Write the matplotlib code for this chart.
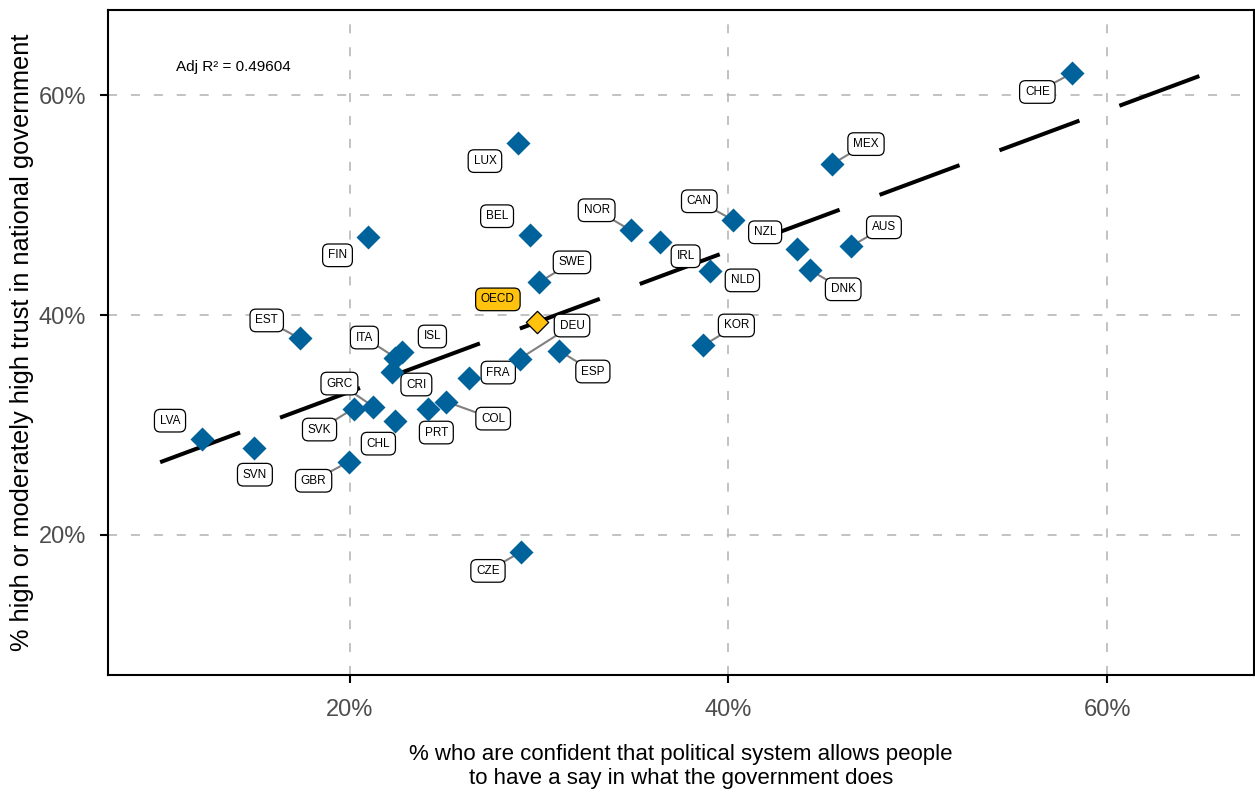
import matplotlib
matplotlib.use('Agg')
import matplotlib.pyplot as plt
from matplotlib import font_manager
import numpy as np

# Country values: % confident they have a say (x) vs % trusting national government (y)
countries = ['CHE', 'MEX', 'LUX', 'BEL', 'FIN', 'NOR', 'IRL', 'CAN', 'NZL', 'DNK',
             'AUS', 'NLD', 'KOR', 'SWE', 'DEU', 'ESP', 'FRA', 'COL', 'PRT', 'CHL',
             'CRI', 'ITA', 'ISL', 'GRC', 'SVK', 'GBR', 'EST', 'LVA', 'SVN', 'CZE']
have_say = [58.16, 45.47, 28.89, 29.53, 21.00, 34.84, 36.37, 40.26, 43.63, 44.32,
            46.47, 39.05, 38.68, 30.00, 29.00, 31.05, 26.32, 25.10, 24.16, 22.42,
            22.26, 22.42, 22.79, 21.26, 20.21, 19.95, 17.37, 12.21, 14.95, 29.05]
trust_gov = [62.02, 53.73, 55.64, 47.26, 47.07, 47.71, 46.62, 48.62, 45.98, 44.07,
             46.25, 43.97, 37.23, 42.97, 36.04, 36.77, 34.31, 32.12, 31.49, 30.39,
             34.86, 36.13, 36.59, 31.67, 31.49, 26.65, 37.87, 28.75, 27.93, 18.45]
oecd_x = 29.89
oecd_y = 39.33
adj_r2 = 0.49604
fit_range = [10, 65]
ticks = [20, 40, 60]

# label placement (offset in pixels from the point) and whether a leader is drawn
label_offsets = {
    'CHE': (-35, -19), 'MEX': (34, 20), 'LUX': (-33, -18), 'BEL': (-33, 19),
    'FIN': (-31, -18), 'NOR': (-34, 20), 'IRL': (26, -14), 'CAN': (-34, 19),
    'NZL': (-32, 17), 'DNK': (33, -19), 'AUS': (33, 19), 'NLD': (32, -9),
    'KOR': (33, 20), 'SWE': (33, 20), 'DEU': (52, 33), 'ESP': (34, -21),
    'FRA': (29, 5), 'COL': (47, -17), 'PRT': (8, -24), 'CHL': (-17, -23),
    'CRI': (24, -13), 'ITA': (-31, 20), 'ISL': (30, 16), 'GRC': (-34, 23),
    'SVK': (-34, -21), 'GBR': (-35, -19), 'EST': (-33, 18), 'LVA': (-32, 18),
    'SVN': (1, -27), 'CZE': (-33, -19),
}
no_leader = {'LUX', 'BEL', 'FIN', 'NZL', 'IRL', 'NLD', 'ISL', 'FRA', 'CRI',
             'LVA', 'CHL', 'PRT', 'SVN'}

names = {f.name for f in font_manager.fontManager.ttflist}
narrow = 'Liberation Sans Narrow' if 'Liberation Sans Narrow' in names else 'Liberation Sans'
plt.rcParams['font.family'] = [narrow, 'DejaVu Sans']
plt.rcParams['lines.scale_dashes'] = False

BLUE = '#00629b'
YELLOW = '#ffc20e'

fig = plt.figure(figsize=(12.55, 7.93), dpi=100)
ax = fig.add_axes([0.0861, 0.1488, 0.9131, 0.8386])

# OLS fit drawn across the full range
slope, intercept = np.polyfit(have_say, trust_gov, 1)
fx = np.array(fit_range, dtype=float)
ax.plot(fx, intercept + slope * fx, color='black', lw=2.9,
        ls=(0, (61.4, 30.7)), solid_capstyle='butt', dash_capstyle='butt', zorder=2)

ax.scatter(have_say, trust_gov, marker='D', s=150, color=BLUE, linewidths=0, zorder=4)
ax.scatter([oecd_x], [oecd_y], marker='D', s=130, color=YELLOW, edgecolors='black',
           linewidths=0.9, zorder=4)

box = dict(boxstyle='round,pad=0.45,rounding_size=0.5', fc='white', ec='black', lw=0.9)
for c, x, y in zip(countries, have_say, trust_gov):
    dx, dy = label_offsets[c]
    arrow = None
    if c not in no_leader:
        arrow = dict(arrowstyle='-', color='#808080', lw=1.5, shrinkA=0, shrinkB=5)
    ax.annotate(c, (x, y), xytext=(dx, dy), textcoords='offset pixels',
                ha='center', va='center', fontsize=8.5, bbox=box,
                arrowprops=arrow, zorder=3)

oecd_box = dict(box, fc=YELLOW)
ax.annotate('OECD', (oecd_x, oecd_y), xytext=(-39, 23), textcoords='offset pixels',
            ha='center', va='center', fontsize=8.5, bbox=oecd_box, zorder=3)

ax.text(10.85, 62.57, f'Adj R\u00b2 = {adj_r2}', fontsize=11, va='center', ha='left')

pad = 0.05 * (fit_range[1] - fit_range[0])
ax.set_xlim(fit_range[0] - pad, fit_range[1] + pad)
ax.set_ylim(fit_range[0] - pad, fit_range[1] + pad)
ax.set_xticks(ticks)
ax.set_yticks(ticks)
ax.set_xticklabels([f'{t}%' for t in ticks])
ax.set_yticklabels([f'{t}%' for t in ticks])
ax.tick_params(length=6, width=1.5, color='black', labelcolor='#4d4d4d', labelsize=17)
ax.tick_params(axis='x', pad=11)
ax.tick_params(axis='y', pad=10)

ax.grid(True, color='#b8b8b8', lw=1.2, ls=(0, (6.5, 10)))
ax.set_axisbelow(True)
for s in ax.spines.values():
    s.set_linewidth(1.5)

ax.set_xlabel('% who are confident that political system allows people\n'
              'to have a say in what the government does', fontsize=16, labelpad=17)
ax.set_ylabel('% high or moderately high trust in national government', fontsize=18.3,
              labelpad=3)

fig.savefig('out.png', dpi=100)
